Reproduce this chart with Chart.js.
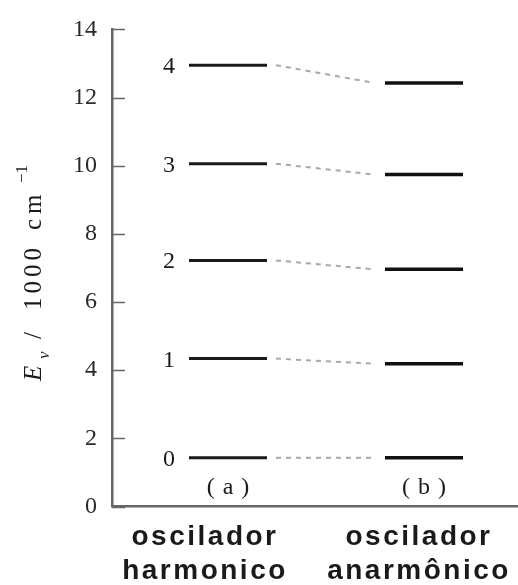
<!DOCTYPE html>
<html>
<head>
<meta charset="utf-8">
<script src="https://cdn.jsdelivr.net/npm/chart.js@4/dist/chart.umd.min.js"></script>
<style>
  html, body { margin: 0; padding: 0; background: #fff; }
  #wrap { width: 518px; height: 585px; position: relative; }
</style>
</head>
<body>
<div id="wrap"><canvas id="c"></canvas></div>
<script>
// ---- data ----
const levelLabels = ['0', '1', '2', '3', '4'];
const categories = [['oscilador', 'harmonico'], ['oscilador', 'anarmônico']];
const panelLabels = ['(a)', '(b)'];
const harmonic = [1.43, 4.34, 7.22, 10.06, 12.95];
const anharmonic = [1.43, 4.19, 6.96, 9.74, 12.43];
const yMin = 0, yMax = 14, yStep = 2;
const titleParts = ['E', 'v', '/', '1000', 'cm', '−1'];

// ---- styles ----
const SERIF = '"Liberation Serif", "DejaVu Serif", serif';
const SANS = '"Liberation Sans", Arial, sans-serif';
const AXIS = '#666';
const INK = '#1a1a1a';
const HALF = 39;               // half length of a level line (px)
const catLabelOffset = [-24, -6];

const decor = {
  id: 'decor',
  beforeDatasetsDraw(chart) {
    const ctx = chart.ctx, xs = chart.scales.x, ys = chart.scales.y;
    const ca = chart.chartArea;
    ctx.save();
    // inward y ticks
    ctx.strokeStyle = AXIS; ctx.lineWidth = 1.5;
    ys.ticks.forEach(t => {
      const py = Math.round(ys.getPixelForValue(t.value)) + 0.5;
      ctx.beginPath(); ctx.moveTo(ca.left, py); ctx.lineTo(ca.left + 13, py); ctx.stroke();
    });
    // dashed connectors
    ctx.strokeStyle = '#a8a8a8'; ctx.lineWidth = 2; ctx.setLineDash([5, 5]);
    const x0 = xs.getPixelForValue(0) + HALF + 9;
    const x1 = xs.getPixelForValue(1) - HALF - 11;
    harmonic.forEach((v, i) => {
      ctx.beginPath();
      ctx.moveTo(x0, ys.getPixelForValue(v));
      ctx.lineTo(x1, ys.getPixelForValue(anharmonic[i]));
      ctx.stroke();
    });
    ctx.restore();
  },
  afterDraw(chart) {
    const ctx = chart.ctx, xs = chart.scales.x, ys = chart.scales.y;
    ctx.save();
    ctx.fillStyle = INK;
    // level numbers
    ctx.font = '24px ' + SERIF; ctx.textAlign = 'center'; ctx.textBaseline = 'alphabetic';
    levelLabels.forEach((l, i) => {
      ctx.fillText(l, xs.getPixelForValue(0) - 59, ys.getPixelForValue(harmonic[i]) + 8);
    });
    // (a) (b)
    ctx.letterSpacing = '8px';
    panelLabels.forEach((l, i) => {
      ctx.fillText(l, xs.getPixelForValue(i) + 4, 494);
    });
    // category labels
    ctx.font = 'bold 28px ' + SANS; ctx.letterSpacing = '2.5px';
    categories.forEach((lines, i) => {
      const cx = xs.getPixelForValue(i) + catLabelOffset[i] + 1;
      lines.forEach((s, j) => ctx.fillText(s, cx, 545 + j * 34));
    });
    ctx.restore();

    // y axis title
    ctx.save();
    ctx.fillStyle = INK;
    ctx.translate(41, 381);
    ctx.rotate(-Math.PI / 2);
    ctx.textAlign = 'left'; ctx.textBaseline = 'alphabetic';
    ctx.font = 'italic 25px ' + SERIF;
    ctx.fillText(titleParts[0], 0, 0);
    ctx.font = 'italic 17px ' + SERIF;
    ctx.fillText(titleParts[1], 22, 8);
    ctx.font = '25px ' + SERIF;
    ctx.fillText(titleParts[2], 42, 0);
    ctx.letterSpacing = '4px';
    ctx.fillText(titleParts[3], 71, 0);
    ctx.letterSpacing = '5px';
    ctx.fillText(titleParts[4], 151, 0);
    ctx.letterSpacing = '0px';
    ctx.font = '17px ' + SERIF;
    ctx.fillText(titleParts[5], 198, -14);
    ctx.restore();
  }
};

new Chart(document.getElementById('c'), {
  type: 'scatter',
  data: {
    datasets: [
      {
        label: 'harmonico',
        data: harmonic.map(v => ({ x: 0, y: v })),
        pointStyle: 'line', pointRadius: HALF, pointHoverRadius: HALF,
        pointBorderWidth: 3, pointBorderColor: INK, pointBackgroundColor: INK,
        showLine: false
      },
      {
        label: 'anarmonico',
        data: anharmonic.map(v => ({ x: 1, y: v })),
        pointStyle: 'line', pointRadius: HALF, pointHoverRadius: HALF,
        pointBorderWidth: 3.5, pointBorderColor: '#111', pointBackgroundColor: '#111',
        showLine: false
      }
    ]
  },
  options: {
    responsive: true,
    maintainAspectRatio: false,
    animation: false,
    events: [],
    layout: { autoPadding: false, padding: { top: 25.5, right: 0, bottom: 0, left: 0 } },
    plugins: { legend: { display: false }, tooltip: { enabled: false } },
    scales: {
      x: {
        type: 'linear', min: -0.5918, max: 1.4796,
        ticks: { display: false },
        grid: { display: false, drawTicks: false },
        border: { display: true, color: AXIS, width: 2.5 },
        afterFit(s) { s.height = 78.5; }
      },
      y: {
        min: yMin, max: yMax,
        ticks: { stepSize: yStep, color: '#2a2a2a', padding: 15, font: { family: SERIF, size: 24 } },
        grid: { display: false, drawTicks: false },
        border: { display: true, color: AXIS, width: 2.5 },
        afterFit(s) { s.width = 112; }
      }
    }
  },
  plugins: [decor]
});
</script>
</body>
</html>
